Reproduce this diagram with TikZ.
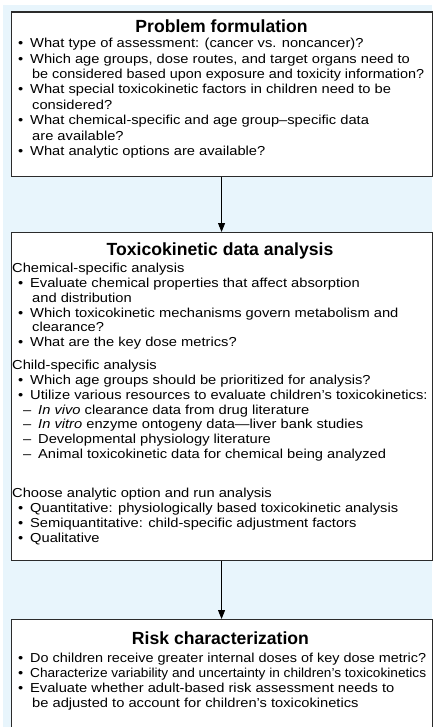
\documentclass[tikz,border=0pt]{standalone}
\usepackage{fontspec}
\usepackage{graphicx}
\setmainfont{Liberation Sans}
\newfontfamily\bodyfont{Liberation Sans}[FakeStretch=1.13]
\usetikzlibrary{arrows.meta}
\definecolor{skyback}{HTML}{E8F5FC}
\definecolor{frameline}{HTML}{2B2B2B}
\newcommand\itemline{\hspace*{6pt}\makebox[12pt][l]{\textbullet}}
\newcommand\contline{\hspace*{20pt}}
\newcommand\dashline{\hspace*{11pt}\makebox[15pt][l]{–}}
% lines that would run past the frame are set to a fixed measure
\newcommand\fitto[2]{\resizebox{#1pt}{\height}{#2}}
\begin{document}
\begin{tikzpicture}[x=1pt,y=-1pt,
  panel/.style={draw=frameline, line width=1.1pt, fill=white, inner sep=0pt,
    minimum width=421pt, anchor=north west},
  heading/.style={font=\bfseries\fontsize{17.6}{21}\selectfont, inner sep=0pt, anchor=center},
  body/.style={font=\bodyfont\fontsize{13}{14.8}\selectfont, align=left, inner sep=0pt, anchor=north west},
  flow/.style={draw=black, line width=0.9pt, -{Triangle[width=7pt,length=9pt]}}]
  \useasboundingbox (0,0) rectangle (432,727);
  \fill[skyback] (3,5) rectangle (432,727);

  % three stages
  \node[panel, minimum height=164.5pt] (formulation) at (10.5,11.5) {};
  \node[panel, minimum height=328pt] (analysis) at (10.5,232) {};
  \node[panel, minimum height=108pt] (risk) at (10.5,619) {};

  \draw[flow] (formulation.south) -- (analysis.north);
  \draw[flow] (analysis.south) -- (risk.north);

  % problem formulation
  \node[heading] (t1) at (221.5,26) {Problem formulation};
  \node[body, font=\bodyfont\fontsize{13}{15.4}\selectfont] (b1) at (12,38) {%
    \itemline What type of assessment: (cancer vs. noncancer)?\\
    \itemline Which age groups, dose routes, and target organs need to\\
    \contline \fitto{392}{be considered based upon exposure and toxicity information?}\\
    \itemline What special toxicokinetic factors in children need to be\\
    \contline considered?\\
    \itemline What chemical-specific and age group–specific data\\
    \contline are available?\\
    \itemline What analytic options are available?};

  % toxicokinetic data analysis
  \node[heading] (t2) at (220,251) {Toxicokinetic data analysis};
  \node[body] (b2a) at (12,263) {%
    Chemical-specific analysis\\
    \itemline Evaluate chemical properties that affect absorption\\
    \contline and distribution\\
    \itemline Which toxicokinetic mechanisms govern metabolism and\\
    \contline clearance?\\
    \itemline What are the key dose metrics?};
  \node[body] (b2b) at (12,360) {%
    Child-specific analysis\\
    \itemline Which age groups should be prioritized for analysis?\\
    \itemline Utilize various resources to evaluate children’s toxicokinetics:\\
    \dashline \textit{In vivo} clearance data from drug literature\\
    \dashline \textit{In vitro} enzyme ontogeny data—liver bank studies\\
    \dashline Developmental physiology literature\\
    \dashline Animal toxicokinetic data for chemical being analyzed};
  \node[body] (b2c) at (12,488) {%
    Choose analytic option and run analysis\\
    \itemline Quantitative: physiologically based toxicokinetic analysis\\
    \itemline Semiquantitative: child-specific adjustment factors\\
    \itemline Qualitative};

  % risk characterization
  \node[heading] (t3) at (220.5,638) {Risk characterization};
  \node[body] (b3) at (12,653) {%
    \itemline \fitto{396}{Do children receive greater internal doses of key dose metric?}\\
    \itemline \fitto{396}{Characterize variability and uncertainty in children’s toxicokinetics}\\
    \itemline Evaluate whether adult-based risk assessment needs to\\
    \contline be adjusted to account for children’s toxicokinetics};
\end{tikzpicture}
\end{document}
